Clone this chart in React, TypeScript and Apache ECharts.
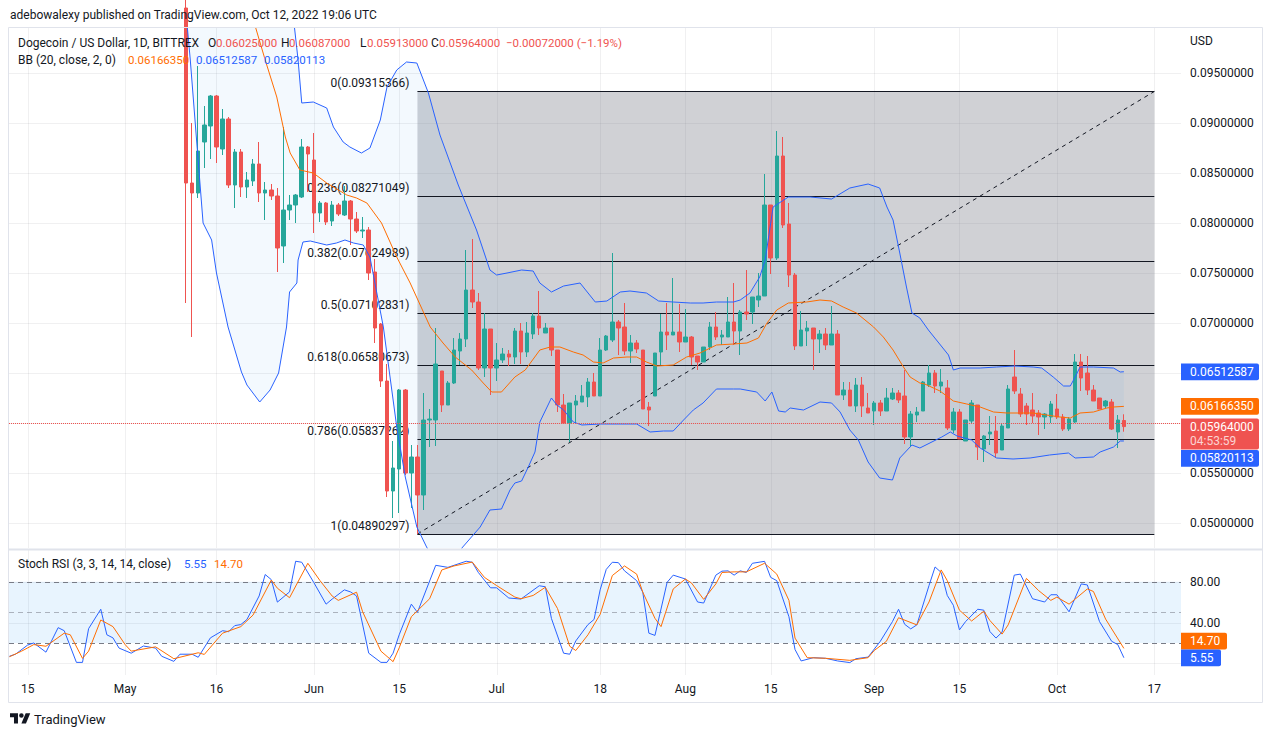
import React, { useEffect, useRef } from "react";
import * as echarts from "echarts";

// ---------------- DATA ----------------
const ORIGIN = "2022-04-15"; // day 0 of the x scale
const FIRST_CANDLE = "2022-05-11";

const opens = [
  0.1015, 0.0840, 0.0830, 0.0881, 0.0897, 0.0927, 0.0874, 0.0904, 0.0838, 0.0871,
  0.0836, 0.0842, 0.0859, 0.0830, 0.0833, 0.0827, 0.0777, 0.0813, 0.0818, 0.0826,
  0.0876, 0.0863, 0.0810, 0.0820, 0.0802, 0.0818, 0.0808, 0.0822, 0.0804, 0.0792,
  0.0793, 0.0751, 0.0699, 0.0642, 0.0532, 0.0554, 0.0633, 0.0550, 0.0566, 0.0528,
  0.0603, 0.0603, 0.0652, 0.0618, 0.0640, 0.0672, 0.0684, 0.0733, 0.0721, 0.0655,
  0.0694, 0.0655, 0.0663, 0.0669, 0.0666, 0.0692, 0.0671, 0.0689, 0.0707, 0.0690,
  0.0695, 0.0673, 0.0618, 0.0600, 0.0618, 0.0621, 0.0626, 0.0641, 0.0627, 0.0673,
  0.0683, 0.0701, 0.0696, 0.0672, 0.0680, 0.0673, 0.0616, 0.0627, 0.0671, 0.0691,
  0.0688, 0.0691, 0.0681, 0.0686, 0.0667, 0.0661, 0.0676, 0.0696, 0.0686, 0.0686,
  0.0701, 0.0692, 0.0711, 0.0711, 0.0723, 0.0727, 0.0818, 0.0765, 0.0867, 0.0799,
  0.0748, 0.0677, 0.0692, 0.0695, 0.0684, 0.0689, 0.0678, 0.0689, 0.0628, 0.0633,
  0.0617, 0.0638, 0.0615, 0.0612, 0.0620, 0.0612, 0.0624, 0.0630, 0.0627, 0.0586,
  0.0608, 0.0612, 0.0638, 0.0650, 0.0637, 0.0635, 0.0593, 0.0611, 0.0582, 0.0602,
  0.0618, 0.0574, 0.0589, 0.0592, 0.0573, 0.0595, 0.0646, 0.0629, 0.0617, 0.0613,
  0.0610, 0.0606, 0.0606, 0.0614, 0.0606, 0.0594, 0.0601, 0.0661, 0.0650, 0.0633,
  0.0625, 0.0617, 0.0621, 0.0591, 0.06025,
];
const highs = [
  0.1040, 0.0900, 0.0957, 0.0917, 0.0928, 0.0928, 0.0914, 0.0906, 0.0874, 0.0874,
  0.0851, 0.0864, 0.0881, 0.0841, 0.0839, 0.0835, 0.0896, 0.0828, 0.0829, 0.0884,
  0.0877, 0.0890, 0.0822, 0.0821, 0.0822, 0.0820, 0.0837, 0.0823, 0.0811, 0.0806,
  0.0796, 0.0764, 0.0700, 0.0659, 0.0582, 0.0634, 0.0634, 0.0578, 0.0578, 0.0630,
  0.0614, 0.0695, 0.0652, 0.0642, 0.0685, 0.0690, 0.0773, 0.0784, 0.0730, 0.0710,
  0.0694, 0.0680, 0.0675, 0.0673, 0.0695, 0.0700, 0.0701, 0.0710, 0.0732, 0.0700,
  0.0695, 0.0673, 0.0629, 0.0620, 0.0628, 0.0638, 0.0645, 0.0650, 0.0685, 0.0688,
  0.0770, 0.0703, 0.0720, 0.0688, 0.0683, 0.0673, 0.0621, 0.0670, 0.0709, 0.0720,
  0.0745, 0.0719, 0.0714, 0.0687, 0.0667, 0.0676, 0.0701, 0.0711, 0.0693, 0.0726,
  0.0740, 0.0713, 0.0753, 0.0726, 0.0750, 0.0849, 0.0818, 0.0892, 0.0886, 0.0820,
  0.0750, 0.0712, 0.0702, 0.0695, 0.0693, 0.0695, 0.0717, 0.0693, 0.0641, 0.0641,
  0.0645, 0.0646, 0.0630, 0.0622, 0.0623, 0.0635, 0.0635, 0.0633, 0.0653, 0.0612,
  0.0616, 0.0642, 0.0658, 0.0653, 0.0654, 0.0643, 0.0615, 0.0614, 0.0603, 0.0623,
  0.0618, 0.0588, 0.0607, 0.0607, 0.0599, 0.0638, 0.0673, 0.0635, 0.0620, 0.0630,
  0.0613, 0.0610, 0.0622, 0.0629, 0.0609, 0.0606, 0.0669, 0.0669, 0.0667, 0.0638,
  0.0625, 0.0623, 0.0624, 0.0608, 0.06087,
];
const lows = [
  0.0720, 0.0686, 0.0825, 0.0855, 0.0864, 0.0860, 0.0868, 0.0835, 0.0815, 0.0826,
  0.0825, 0.0837, 0.0821, 0.0803, 0.0823, 0.0751, 0.0760, 0.0803, 0.0800, 0.0825,
  0.0831, 0.0790, 0.0801, 0.0798, 0.0797, 0.0807, 0.0807, 0.0778, 0.0790, 0.0785,
  0.0743, 0.0680, 0.0636, 0.0526, 0.0505, 0.0510, 0.0548, 0.0515, 0.0489, 0.0513,
  0.0576, 0.0577, 0.0611, 0.0618, 0.0639, 0.0658, 0.0676, 0.0715, 0.0653, 0.0646,
  0.0628, 0.0642, 0.0660, 0.0657, 0.0659, 0.0659, 0.0666, 0.0684, 0.0688, 0.0690,
  0.0667, 0.0611, 0.0600, 0.0581, 0.0600, 0.0621, 0.0616, 0.0627, 0.0627, 0.0672,
  0.0681, 0.0668, 0.0668, 0.0660, 0.0670, 0.0614, 0.0597, 0.0627, 0.0658, 0.0673,
  0.0688, 0.0671, 0.0681, 0.0658, 0.0653, 0.0661, 0.0673, 0.0683, 0.0678, 0.0686,
  0.0678, 0.0668, 0.0703, 0.0699, 0.0716, 0.0727, 0.0749, 0.0763, 0.0795, 0.0736,
  0.0673, 0.0677, 0.0677, 0.0653, 0.0670, 0.0673, 0.0678, 0.0628, 0.0623, 0.0617,
  0.0611, 0.0606, 0.0610, 0.0598, 0.0607, 0.0612, 0.0623, 0.0620, 0.0579, 0.0577,
  0.0601, 0.0612, 0.0636, 0.0630, 0.0630, 0.0593, 0.0590, 0.0584, 0.0582, 0.0600,
  0.0563, 0.0561, 0.0578, 0.0565, 0.0573, 0.0595, 0.0629, 0.0606, 0.0598, 0.0600,
  0.0588, 0.0594, 0.0600, 0.0604, 0.0592, 0.0592, 0.0600, 0.0632, 0.0628, 0.0622,
  0.0614, 0.0615, 0.0593, 0.0575, 0.05913,
];
const closes = [
  0.0840, 0.0830, 0.0872, 0.0898, 0.0927, 0.0876, 0.0904, 0.0838, 0.0871, 0.0836,
  0.0843, 0.0859, 0.0830, 0.0833, 0.0827, 0.0775, 0.0813, 0.0818, 0.0828, 0.0876,
  0.0869, 0.0810, 0.0820, 0.0801, 0.0818, 0.0809, 0.0822, 0.0804, 0.0792, 0.0793,
  0.0750, 0.0695, 0.0642, 0.0532, 0.0555, 0.0633, 0.0550, 0.0566, 0.0528, 0.0603,
  0.0604, 0.0659, 0.0618, 0.0640, 0.0673, 0.0684, 0.0733, 0.0721, 0.0655, 0.0694,
  0.0655, 0.0663, 0.0669, 0.0666, 0.0692, 0.0671, 0.0690, 0.0707, 0.0695, 0.0695,
  0.0673, 0.0618, 0.0600, 0.0620, 0.0622, 0.0627, 0.0641, 0.0627, 0.0673, 0.0687,
  0.0701, 0.0695, 0.0672, 0.0680, 0.0674, 0.0614, 0.0613, 0.0670, 0.0691, 0.0688,
  0.0691, 0.0681, 0.0686, 0.0666, 0.0661, 0.0676, 0.0696, 0.0686, 0.0688, 0.0701,
  0.0692, 0.0711, 0.0709, 0.0726, 0.0727, 0.0818, 0.0765, 0.0867, 0.0798, 0.0748,
  0.0677, 0.0693, 0.0695, 0.0684, 0.0689, 0.0678, 0.0689, 0.0628, 0.0633, 0.0617,
  0.0638, 0.0617, 0.0610, 0.0620, 0.0612, 0.0625, 0.0630, 0.0623, 0.0586, 0.0609,
  0.0611, 0.0641, 0.0650, 0.0637, 0.0641, 0.0595, 0.0611, 0.0584, 0.0603, 0.0620,
  0.0576, 0.0587, 0.0591, 0.0570, 0.0597, 0.0634, 0.0632, 0.0609, 0.0609, 0.0607,
  0.0606, 0.0609, 0.0619, 0.0606, 0.0594, 0.0604, 0.0661, 0.0645, 0.0633, 0.0622,
  0.0614, 0.0622, 0.0594, 0.0603, 0.05964,
];

// Bollinger bands (20, close, 2): [day, price]
const bbUpper = [
  [26, 0.15], [35, 0.135], [42, 0.108], [43.8, 0.0996], [44.4, 0.0963], [45.0, 0.092], [46.9, 0.0921],
  [49.1, 0.0915], [50.2, 0.0896], [51.8, 0.0881], [52.9, 0.0876], [54.8, 0.087], [56.2, 0.0875],
  [57.9, 0.0903], [59.0, 0.0936], [60.6, 0.0953], [62.2, 0.0961], [63.9, 0.096], [65.8, 0.093],
  [67.7, 0.0888], [70.7, 0.0838], [73.7, 0.0793], [75.9, 0.0753], [77.0, 0.0748], [78.7, 0.075],
  [81.1, 0.0753], [83.0, 0.0752], [84.1, 0.074], [86.0, 0.0731], [88.0, 0.0737], [90.7, 0.074],
  [93.2, 0.0721], [95.1, 0.0722], [97.3, 0.0731], [98.9, 0.0732], [101.6, 0.073], [103.6, 0.0722],
  [106.0, 0.0721], [108.8, 0.072], [110.9, 0.072], [113.1, 0.0721], [115.9, 0.0721], [117.0, 0.0723],
  [118.6, 0.073], [120.2, 0.0746], [121.1, 0.0763], [122.4, 0.0816], [124.9, 0.0826], [128.5, 0.0826],
  [132.0, 0.0824], [135.0, 0.0835], [138.0, 0.0839], [139.9, 0.0835], [141.1, 0.0816], [142.1, 0.0803],
  [143.2, 0.077], [144.3, 0.0736], [145.2, 0.071], [146.5, 0.0705], [147.9, 0.0693], [151.2, 0.0668],
  [152.0, 0.0653], [153.1, 0.0655], [156.4, 0.0655], [159.1, 0.0656], [162.1, 0.0657], [165.1, 0.0656],
  [166.5, 0.0655], [168.4, 0.0646], [170.1, 0.0637], [171.2, 0.0637], [172.0, 0.0646], [172.8, 0.0656],
  [175.0, 0.0656], [178.3, 0.0655], [179.4, 0.0651], [180, 0.06512587],
];
const bbMiddle = [
  [26, 0.125], [33, 0.112], [37.4, 0.0996], [39.0, 0.0963], [40.9, 0.0926], [42.3, 0.0886], [43.1, 0.087],
  [44.7, 0.0853], [46.9, 0.085], [49.1, 0.084], [52.4, 0.0828], [54.0, 0.0825], [55.7, 0.082], [58.1, 0.08],
  [60.6, 0.0766], [62.8, 0.074], [66.1, 0.0696], [68.2, 0.068], [70.2, 0.0666], [72.9, 0.0653], [74.8, 0.064],
  [76.2, 0.0631], [77.8, 0.0631], [80.0, 0.0646], [81.7, 0.0653], [84.1, 0.0673], [85.8, 0.0676], [87.4, 0.0676],
  [89.6, 0.0671], [91.2, 0.0668], [92.9, 0.0661], [94.5, 0.066], [96.2, 0.0665], [98.4, 0.0666], [100.0, 0.0666],
  [101.6, 0.0661], [103.3, 0.0657], [106.0, 0.0658], [108.2, 0.0666], [110.4, 0.067], [113.1, 0.0678],
  [115.9, 0.0679], [118.1, 0.068], [120.0, 0.0685], [121.4, 0.07], [123.0, 0.0713], [124.9, 0.072],
  [127.9, 0.0721], [130.1, 0.0723], [132.0, 0.0722], [133.9, 0.0716], [136.1, 0.071], [138.9, 0.0696],
  [140.5, 0.0686], [142.1, 0.0673], [143.8, 0.0656], [144.9, 0.0646], [146.5, 0.064], [147.3, 0.0639],
  [149.8, 0.0632], [152.0, 0.0622], [154.2, 0.0619], [156.4, 0.0616], [158.6, 0.0611], [160.8, 0.061],
  [163.0, 0.061], [165.1, 0.061], [167.3, 0.0608], [169.5, 0.0606], [171.2, 0.0605], [172.8, 0.061],
  [175.0, 0.0611], [177.2, 0.0615], [178.3, 0.0616], [180, 0.0616635],
];
const bbLower = [
  [26, 0.101], [26.7, 0.0963], [28.8, 0.08], [30.2, 0.0783], [31.0, 0.075], [32.9, 0.0696], [35.1, 0.0651],
  [36.0, 0.0638], [38.1, 0.0621], [39.8, 0.0633], [41.2, 0.065], [42.5, 0.0696], [43.0, 0.0731], [44.2, 0.074],
  [44.4, 0.0763], [45.2, 0.0781], [46.4, 0.0782], [49.1, 0.0778], [50.7, 0.078], [52.1, 0.0783], [53.5, 0.078],
  [55.1, 0.0778], [56.2, 0.0766], [58.4, 0.0696], [59.5, 0.0646], [60.6, 0.0596], [62.0, 0.0546], [63.9, 0.0496],
  [65.5, 0.0476], [67.5, 0.0455], [69.5, 0.0455], [71.3, 0.0475], [74.3, 0.0496], [75.9, 0.0513], [77.8, 0.0514],
  [79.2, 0.0533], [80.0, 0.054], [81.1, 0.0542], [82.2, 0.0556], [83.3, 0.0571], [84.1, 0.0601], [86.0, 0.0625],
  [86.9, 0.0618], [88.0, 0.0613], [89.6, 0.0601], [91.0, 0.0598], [94.0, 0.0599], [100.0, 0.0599], [102.2, 0.0591],
  [104.4, 0.0592], [106.0, 0.0592], [107.7, 0.0603], [109.3, 0.0613], [110.9, 0.062], [113.1, 0.0634],
  [115.9, 0.0634], [117.0, 0.0634], [119.7, 0.0631], [121.1, 0.0622], [122.2, 0.0631], [123.3, 0.0612],
  [124.4, 0.0611], [125.2, 0.0615], [127.4, 0.0613], [130.1, 0.0621], [132.0, 0.062], [133.4, 0.0611],
  [135.0, 0.0593], [136.4, 0.0583], [138.0, 0.0561], [139.9, 0.0545], [142.0, 0.0543], [143.2, 0.0565],
  [145.2, 0.0578], [146.5, 0.0575], [150.1, 0.0586], [151.5, 0.0591], [152.6, 0.0587], [155.0, 0.0583],
  [156.4, 0.0575], [159.1, 0.0565], [161.8, 0.0564], [164.6, 0.0565], [167.8, 0.0568], [170.9, 0.057],
  [172.0, 0.0565], [175.0, 0.0566], [176.1, 0.0571], [178.3, 0.0576], [179.4, 0.0582], [180, 0.05820113],
];

// Stoch RSI (3, 3, 14, 14): [day, value]
const stochK = [
  [-3, 7], [-2, 9], [0, 18], [1, 20], [3, 11], [5, 35], [6, 32], [8, 1], [9, 1], [10, 34], [12, 53], [13, 28],
  [14, 25], [15, 15], [17, 10], [19, 17], [21, 15], [22, 7], [24, 2], [25, 9], [27, 9], [28, 6], [30, 25],
  [32, 32], [33, 31], [34, 37], [35, 38], [36, 43], [38, 66], [39, 87], [40, 82], [41, 60], [43, 70], [44, 100],
  [45, 99], [47, 79], [49, 58], [50, 63], [52, 72], [53, 70], [54, 66], [56, 10], [58, 1], [59, 1], [60, 10],
  [61, 28], [63, 58], [64, 50], [67, 96], [69, 94], [72, 100], [73, 99], [74, 89], [76, 74], [77, 74], [79, 64],
  [81, 63], [84, 76], [85, 75], [86, 44], [88, 10], [89, 9], [90, 22], [92, 38], [93, 43], [94, 72], [95, 92],
  [96, 99], [97, 98.6], [98, 90.6], [100, 81], [101, 69.7], [102, 29.6], [103, 27.4], [105, 79.4], [106, 86.4],
  [108, 82.6], [110, 60.1], [111, 59.1], [113, 86.4], [114, 90.3], [115, 90.6], [116, 86.4], [117, 90.6],
  [118, 89], [119, 98], [121, 99.9], [122, 84.2], [123, 81], [125, 45.7], [126, 13.6], [127, 2.4], [129, 5.6],
  [131, 5], [133, 2.4], [135, 0.8], [136, 4.6], [138, 6.2], [140, 21.6], [142, 40.9], [143, 53], [144, 38.3],
  [145, 33.8], [146, 37.7], [148, 76.2], [149, 94.4], [150, 89], [151, 66.5], [152, 56.9], [153, 32.8],
  [154, 40.9], [156, 53], [157, 52.1], [158, 31.2], [159, 24.8], [160, 30.6], [162, 86.4], [163, 87.4],
  [165, 63.3], [167, 60.1], [168, 67.2], [169, 67.2], [171, 50.5], [173, 77.8], [174, 76.8], [176, 40.9],
  [178, 21.6], [179, 18.4], [180, 5.55],
];
const stochD = [
  [-3, 6.5], [-1, 12], [1, 18.4], [3, 16.8], [6, 29.6], [7, 28], [9, 4.9], [10, 12], [12, 42.5], [14, 36],
  [16, 18.4], [17, 12], [21, 16.2], [24, 4.6], [28, 10.4], [29, 8.8], [32, 29.6], [35, 36], [37, 47.3],
  [40, 81.6], [41, 73.6], [43, 64.3], [46, 98], [48, 81], [50, 65.9], [51, 61.7], [54, 69.7], [55, 50.5],
  [58, 12], [60, 1.7], [61, 15.2], [63, 45.7], [66, 63.3], [68, 91.5], [70, 95.4], [73, 99.2], [75, 84.2],
  [77, 76.2], [80, 64.9], [81, 63.3], [83, 66.5], [85, 74.5], [87, 53.7], [89, 16.8], [90, 12.6], [92, 28],
  [94, 48], [96, 86], [98, 95.4], [100, 87.4], [101, 69.7], [103, 44.1], [104, 36], [106, 72.9], [108, 82.6],
  [109, 78.7], [111, 62.7], [113, 77.8], [114, 89], [116, 89.6], [118, 89.6], [121, 98], [123, 87.4],
  [125, 61.7], [126, 24.8], [128, 5.6], [131, 5], [135, 3], [138, 5.6], [139, 12.6], [141, 21.6], [143, 44.7],
  [146, 37.7], [148, 60.1], [150, 91.5], [151, 81], [153, 52.1], [155, 41.5], [157, 51.1], [158, 42],
  [160, 28.7], [161, 37.7], [164, 83.2], [166, 71.3], [168, 61.7], [169, 64.9], [171, 58], [174, 72.9],
  [175, 70.4], [177, 43.4], [180, 14.7],
];

const tickDates = [
  "2022-04-15", "2022-05-01", "2022-05-16", "2022-06-01", "2022-06-15", "2022-07-01", "2022-07-18",
  "2022-08-01", "2022-08-15", "2022-09-01", "2022-09-15", "2022-10-01", "2022-10-17",
];
const tickLabels = ["15", "May", "16", "Jun", "15", "Jul", "18", "Aug", "15", "Sep", "15", "Oct", "17"];
const priceTicks = [0.05, 0.055, 0.06, 0.065, 0.07, 0.075, 0.08, 0.085, 0.09, 0.095];
// labels not covered by the price tags
const priceLabelTicks = [0.05, 0.055, 0.07, 0.075, 0.08, 0.085, 0.09, 0.095];
const stochTicks = [0, 40, 80];
const stochLabelTicks = [40, 80];
const stochBands = [80, 50, 20];

const fibRatios = [0, 0.236, 0.382, 0.5, 0.618, 0.786, 1];
const fibPrices = [0.09315366, 0.08271049, 0.07624989, 0.07102831, 0.06580673, 0.05837262, 0.04890297];
const fibStartDate = "2022-06-18";
const fibEndDate = "2022-10-17";

const bbLegend = ["0.06166350", "0.06512587", "0.05820113"];
const ohlcLegend = ["0.06025000", "0.06087000", "0.05913000", "0.05964000"];
const changeLegend = "\u22120.00072000 (\u22121.19%)";
const countdown = "04:53:59";

// ---------------- HELPERS ----------------
const DAY = 86400000;
const dayOf = (s: string) => Math.round((Date.parse(s) - Date.parse(ORIGIN)) / DAY);
const firstDay = dayOf(FIRST_CANDLE);
const tickDays = tickDates.map(dayOf);
const fibStart = dayOf(fibStartDate);
const fibEnd = dayOf(fibEndDate);

const FONT = "Roboto, 'Liberation Sans', sans-serif";
const TEXT = "#131722";
const UP = "#26a69a";
const DOWN = "#ef5350";
const BLUE = "#2962ff";
const ORANGE = "#ff6d00";
const GRID = "rgba(42,46,57,0.07)";

const X_MIN = -3.07;
const X_MAX = 189.38;

const LOGO_D =
  "M14 22H7V11H0V4h14v18zM28 22h-8l7.5-18h8L28 22zM20 12a4 4 0 1 0 0-8 4 4 0 0 0 0 8z";
try {
  echarts.graphic.registerShape("tvlogo", echarts.graphic.extendPath(LOGO_D, {}));
} catch (e) {
  /* already registered */
}

function txt(text: string, x: number, y: number, fill: string, size = 12, align = "left", extra: any = {}) {
  return {
    type: "text",
    x,
    y,
    z: 100,
    silent: true,
    style: { text, fill, fontSize: size, fontFamily: FONT, align, verticalAlign: "middle", ...extra },
  };
}

export default function App() {
  const ref = useRef<HTMLDivElement>(null);

  useEffect(() => {
    if (!ref.current) return;
    const chart = echarts.init(ref.current, null, { renderer: "svg" });

    const candleData = closes.map((c, i) => [firstDay + i, opens[i], c, lows[i], highs[i]]);
    const lastClose = closes[closes.length - 1];

    const option: any = {
      animation: false,
      backgroundColor: "#ffffff",
      textStyle: { fontFamily: FONT },
      grid: [
        { left: 9, top: 28, width: 1172, height: 520 },
        { left: 9, top: 550, width: 1172, height: 125 },
      ],
      xAxis: [
        {
          type: "value", gridIndex: 0, min: X_MIN, max: X_MAX,
          axisLine: { show: false }, axisTick: { show: false }, axisLabel: { show: false }, splitLine: { show: false },
        },
        {
          type: "value", gridIndex: 1, min: X_MIN, max: X_MAX,
          axisLine: { show: false }, axisTick: { show: false }, splitLine: { show: false },
          axisLabel: {
            customValues: tickDays,
            formatter: (v: number) => {
              const i = tickDays.indexOf(Math.round(v));
              return i >= 0 ? tickLabels[i] : "";
            },
            color: TEXT, fontSize: 12, margin: 8, fontFamily: FONT,
          },
        },
      ],
      yAxis: [
        {
          type: "value", gridIndex: 0, position: "right", min: 0.0475, max: 0.0995,
          axisLine: { show: false }, axisTick: { show: false }, splitLine: { show: false },
          axisLabel: {
            customValues: priceLabelTicks,
            formatter: (v: number) => v.toFixed(8),
            color: TEXT, fontSize: 12, margin: 9, fontFamily: FONT,
          },
        },
        {
          type: "value", gridIndex: 1, position: "right", min: -11.35, max: 111,
          axisLine: { show: false }, axisTick: { show: false }, splitLine: { show: false },
          axisLabel: {
            customValues: stochLabelTicks,
            formatter: (v: number) => v.toFixed(2),
            color: TEXT, fontSize: 12, margin: 9, fontFamily: FONT,
          },
        },
      ],
      series: [
        // grid lines (main)
        {
          type: "custom", xAxisIndex: 0, yAxisIndex: 0, silent: true, clip: true,
          data: [[90, 0.07]],
          renderItem: (params: any, api: any) => {
            const cs = params.coordSys;
            const children: any[] = [];
            tickDays.forEach((d) => {
              const x = Math.round(api.coord([d, 0.07])[0]) + 0.5;
              children.push({ type: "line", shape: { x1: x, y1: cs.y, x2: x, y2: cs.y + cs.height }, style: { stroke: GRID, lineWidth: 1 } });
            });
            priceTicks.forEach((p) => {
              const y = Math.round(api.coord([0, p])[1]) + 0.5;
              children.push({ type: "line", shape: { x1: cs.x, y1: y, x2: cs.x + cs.width, y2: y }, style: { stroke: GRID, lineWidth: 1 } });
            });
            return { type: "group", children };
          },
        },
        // fib background
        {
          type: "custom", xAxisIndex: 0, yAxisIndex: 0, silent: true, clip: true,
          data: [[90, 0.07]],
          renderItem: (params: any, api: any) => {
            const a = api.coord([fibStart, fibPrices[0]]);
            const b = api.coord([fibEnd, fibPrices[fibPrices.length - 1]]);
            return {
              type: "rect",
              shape: { x: a[0], y: a[1], width: b[0] - a[0], height: b[1] - a[1] },
              style: { fill: "rgba(120,123,134,0.35)" },
            };
          },
        },
        // BB fill
        {
          type: "custom", xAxisIndex: 0, yAxisIndex: 0, silent: true, clip: true,
          data: [[90, 0.07]],
          renderItem: (params: any, api: any) => {
            const pts = bbUpper.map((p) => api.coord(p)).concat(bbLower.slice().reverse().map((p) => api.coord(p)));
            return { type: "polygon", shape: { points: pts }, style: { fill: "rgba(33,150,243,0.055)" } };
          },
        },
        // fib lines, labels, trend line
        {
          type: "custom", xAxisIndex: 0, yAxisIndex: 0, silent: true, clip: true,
          data: [[90, 0.07]],
          renderItem: (params: any, api: any) => {
            const children: any[] = [];
            const xs = api.coord([fibStart, fibPrices[0]])[0];
            const xe = api.coord([fibEnd, fibPrices[0]])[0];
            fibPrices.forEach((p, i) => {
              const y = Math.round(api.coord([fibStart, p])[1]) + 0.5;
              children.push({ type: "line", shape: { x1: xs, y1: y, x2: xe, y2: y }, style: { stroke: TEXT, lineWidth: 1 } });
              children.push({
                type: "text",
                style: {
                  text: `${fibRatios[i]}(${p.toFixed(8)})`,
                  x: xs - 8, y: y - 9, align: "right", verticalAlign: "middle",
                  fill: TEXT, fontSize: 12, fontFamily: FONT,
                },
              });
            });
            const p1 = api.coord([fibStart, fibPrices[fibPrices.length - 1]]);
            const p0 = api.coord([fibEnd, fibPrices[0]]);
            children.push({
              type: "line",
              shape: { x1: p1[0], y1: p1[1], x2: p0[0], y2: p0[1] },
              style: { stroke: TEXT, lineWidth: 1, lineDash: [4, 4] },
            });
            return { type: "group", children };
          },
        },
        { type: "line", xAxisIndex: 0, yAxisIndex: 0, data: bbUpper, showSymbol: false, silent: true, clip: true, lineStyle: { color: BLUE, width: 1 } },
        { type: "line", xAxisIndex: 0, yAxisIndex: 0, data: bbMiddle, showSymbol: false, silent: true, clip: true, lineStyle: { color: ORANGE, width: 1 } },
        { type: "line", xAxisIndex: 0, yAxisIndex: 0, data: bbLower, showSymbol: false, silent: true, clip: true, lineStyle: { color: BLUE, width: 1 } },
        {
          type: "candlestick", xAxisIndex: 0, yAxisIndex: 0, data: candleData, barWidth: 4, clip: true,
          itemStyle: { color: UP, color0: DOWN, borderColor: UP, borderColor0: DOWN, borderWidth: 1 },
          markLine: {
            silent: true, symbol: ["none", "none"], label: { show: false },
            lineStyle: { type: "dotted", color: DOWN, width: 1 },
            data: [{ yAxis: lastClose }],
          },
        },
        // stoch pane background: grid, band, dashed levels
        {
          type: "custom", xAxisIndex: 1, yAxisIndex: 1, silent: true, clip: true,
          data: [[90, 50]],
          renderItem: (params: any, api: any) => {
            const cs = params.coordSys;
            const children: any[] = [];
            tickDays.forEach((d) => {
              const x = Math.round(api.coord([d, 50])[0]) + 0.5;
              children.push({ type: "line", shape: { x1: x, y1: cs.y, x2: x, y2: cs.y + cs.height }, style: { stroke: GRID, lineWidth: 1 } });
            });
            stochTicks.forEach((v) => {
              const y = Math.round(api.coord([0, v])[1]) + 0.5;
              children.push({ type: "line", shape: { x1: cs.x, y1: y, x2: cs.x + cs.width, y2: y }, style: { stroke: GRID, lineWidth: 1 } });
            });
            const yTop = api.coord([0, stochBands[0]])[1];
            const yBot = api.coord([0, stochBands[2]])[1];
            children.push({ type: "rect", shape: { x: cs.x, y: yTop, width: cs.width, height: yBot - yTop }, style: { fill: "rgba(33,150,243,0.1)" } });
            stochBands.forEach((v, i) => {
              const y = Math.round(api.coord([0, v])[1]) + 0.5;
              children.push({
                type: "line",
                shape: { x1: cs.x, y1: y, x2: cs.x + cs.width, y2: y },
                style: { stroke: i === 1 ? "rgba(120,123,134,0.55)" : "#787b86", lineWidth: 1, lineDash: [5, 4] },
              });
            });
            return { type: "group", children };
          },
        },
        { type: "line", xAxisIndex: 1, yAxisIndex: 1, data: stochK, showSymbol: false, silent: true, clip: true, lineStyle: { color: BLUE, width: 1 } },
        { type: "line", xAxisIndex: 1, yAxisIndex: 1, data: stochD, showSymbol: false, silent: true, clip: true, lineStyle: { color: ORANGE, width: 1 } },
      ],
    };

    chart.setOption(option);

    const py0 = (v: number) => chart.convertToPixel({ yAxisIndex: 0 } as any, v) as unknown as number;
    const py1 = (v: number) => chart.convertToPixel({ yAxisIndex: 1 } as any, v) as unknown as number;

    const TAG_X = 1181;
    const tag = (x: number, y: number, w: number, h: number, fill: string) => ({
      type: "rect", z: 99, silent: true,
      shape: { x, y, width: w, height: h, r: [0, 2, 2, 0] },
      style: { fill },
    });

    const yUp = py0(0.06512587);
    const yMid = py0(0.0616635);
    const yLast = py0(lastClose);
    const yLow = py0(0.05820113);
    const redTop = yLast - 8;
    const redH = 31;
    const lowTop = Math.max(yLow - 8.3, redTop + redH + 0.5);

    const yK = py1(5.55);
    const kTop = yK - 8.3;
    const dTop = Math.min(py1(14.7) - 8.3, kTop - 16.7);

    const NUM = 11.5;
    const graphics: any[] = [
      // frame
      { type: "rect", z: 98, silent: true, shape: { x: 8.5, y: 27.5, width: 1254, height: 675 }, style: { fill: "none", stroke: "#e0e3eb", lineWidth: 1 } },
      { type: "line", z: 98, silent: true, shape: { x1: 9, y1: 549.5, x2: 1262, y2: 549.5 }, style: { stroke: "#e0e3eb", lineWidth: 2 } },

      txt("adebowalexy published on TradingView.com, Oct 12, 2022 19:06 UTC", 10, 15, TEXT, 12),
      txt("Dogecoin / US Dollar, 1D, BITTREX", 18, 42.5, TEXT),
      txt("O", 208, 42.5, TEXT),
      txt(ohlcLegend[0], 216, 42.5, DOWN, NUM),
      txt("H", 281, 42.5, TEXT),
      txt(ohlcLegend[1], 289, 42.5, DOWN, NUM),
      txt("L", 360, 42.5, TEXT),
      txt(ohlcLegend[2], 367, 42.5, DOWN, NUM),
      txt("C", 431, 42.5, TEXT),
      txt(ohlcLegend[3], 439, 42.5, DOWN, NUM),
      txt(changeLegend, 506, 42.5, DOWN, NUM),
      txt("BB (20, close, 2, 0)", 18, 59.5, TEXT),
      txt(bbLegend[0], 128, 59.5, ORANGE, NUM),
      txt(bbLegend[1], 196, 59.5, BLUE, NUM),
      txt(bbLegend[2], 264, 59.5, BLUE, NUM),
      txt("USD", 1190, 41, TEXT),
      txt("Stoch RSI (3, 3, 14, 14, close)", 18, 564, TEXT),
      txt("5.55", 184, 564, BLUE, NUM),
      txt("14.70", 214, 564, ORANGE, NUM),

      // price tags
      tag(TAG_X, yUp - 8.3, 78, 16.7, BLUE),
      txt("0.06512587", 1190, yUp, "#ffffff"),
      tag(TAG_X, yMid - 8.3, 78, 16.7, ORANGE),
      txt("0.06166350", 1190, yMid, "#ffffff"),
      tag(TAG_X, redTop, 78, redH, DOWN),
      txt("0.05964000", 1190, redTop + 8, "#ffffff"),
      txt(countdown, 1190, redTop + 22.5, "rgba(255,255,255,0.75)"),
      tag(TAG_X, lowTop, 78, 16.7, BLUE),
      txt("0.05820113", 1190, lowTop + 8.3, "#ffffff"),

      tag(TAG_X, dTop, 46, 16.7, ORANGE),
      txt("14.70", 1190, dTop + 8.3, "#ffffff"),
      tag(TAG_X, kTop, 40, 16.7, BLUE),
      txt("5.55", 1190, kTop + 8.3, "#ffffff"),

      // footer
      { type: "tvlogo", z: 100, silent: true, x: 10, y: 711, scaleX: 0.57, scaleY: 0.57, style: { fill: TEXT } },
      txt("TradingView", 34, 719, TEXT, 13),
    ];

    chart.setOption({ graphic: graphics });

    return () => {
      chart.dispose();
    };
  }, []);

  return (
    <div
      ref={ref}
      style={{ position: "fixed", left: 0, top: 0, width: 1273, height: 738, background: "#ffffff" }}
    />
  );
}
